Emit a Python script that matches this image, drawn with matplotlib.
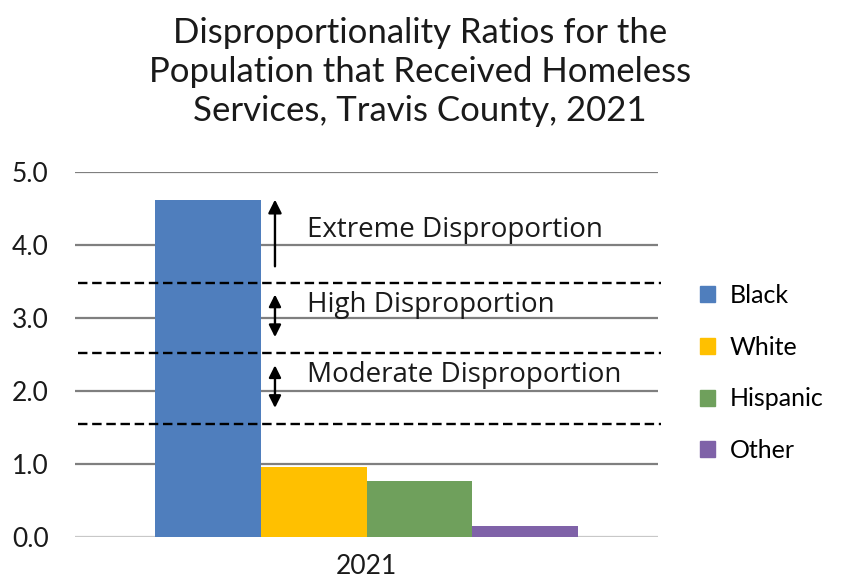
import matplotlib
matplotlib.use("Agg")
import matplotlib.pyplot as plt
from matplotlib.patches import Patch

categories = ["Black", "White", "Hispanic", "Other"]
values = [4.62, 0.96, 0.77, 0.155]
colors = ["#4F7EBD", "#FFC000", "#6FA05C", "#7F62A8"]
year_label = "2021"
thresholds = [3.48, 2.52, 1.55]
zone_labels = ["Extreme Disproportion", "High Disproportion", "Moderate Disproportion"]
zone_label_y = [4.2, 3.18, 2.22]
yticks = [0, 1, 2, 3, 4, 5]

plt.rcParams['font.family'] = ['Lato', 'DejaVu Sans']

fig = plt.figure(figsize=(8.44, 5.83), dpi=100)
W, H = 844, 583
ax = fig.add_axes([75 / W, 1 - 537 / H, (658 - 75) / W, (537 - 172) / H])
ax.set_xlim(0, 1)
ax.set_ylim(0, 5)

# gridlines
for t in yticks:
    ax.axhline(t, color="#7f7f7f" if t > 0 else "#c8c8c8", lw=1.6, zorder=0)

width = 0.181
center = 0.5
xs = [center + (i - 1.5) * width for i in range(len(categories))]
for x, v, c, lab in zip(xs, values, colors, categories):
    ax.bar(x, v, width=width, color=c, label=lab, zorder=2)

# dashed threshold lines
for t in thresholds:
    ax.plot([0.005, 1.005], [t, t], color="black", lw=1.7, ls=(0, (4, 2)), zorder=3,
            clip_on=False)

# arrows
ax_x = 0.343
arrow_style = dict(arrowstyle="-|>", color="black", lw=1.7, mutation_scale=20)
ax.annotate("", xy=(ax_x, 4.66), xytext=(ax_x, 3.67), arrowprops=arrow_style, zorder=4)
dbl = dict(arrowstyle="<|-|>", color="black", lw=1.7, mutation_scale=18)
ax.annotate("", xy=(ax_x, 3.36), xytext=(ax_x, 2.7), arrowprops=dbl, zorder=4)
ax.annotate("", xy=(ax_x, 2.39), xytext=(ax_x, 1.73), arrowprops=dbl, zorder=4)

for lab, y in zip(zone_labels, zone_label_y):
    ax.text(0.398, y, lab, fontsize=20, family=['Open Sans', 'DejaVu Sans'],
            color="#1a1a1a", va="center", ha="left", zorder=5)

ax.set_yticks(yticks)
ax.set_yticklabels([f"{t:.1f}" for t in yticks], fontsize=19, color="#1a1a1a")
ax.set_xticks([center])
ax.set_xticklabels([year_label], fontsize=19, color="#1a1a1a")
ax.tick_params(axis="both", length=0)
ax.tick_params(axis="y", pad=19)
ax.tick_params(axis="x", pad=12)
for s in ax.spines.values():
    s.set_visible(False)

handles = [Patch(color=c, label=l) for c, l in zip(colors, categories)]
fig.legend(handles=handles, loc="center left", bbox_to_anchor=(677 / W, 1 - 373 / H),
           frameon=False, fontsize=18, handlelength=0.6, handleheight=0.6,
           labelspacing=1.15, handletextpad=0.6)

fig.text(420 / W, 1 - 72 / H,
         "Disproportionality Ratios for the\nPopulation that Received Homeless\nServices, Travis County, 2021",
         ha="center", va="center", fontsize=25, linespacing=1.28, color="#1a1a1a")

fig.savefig("out.png", dpi=100)
